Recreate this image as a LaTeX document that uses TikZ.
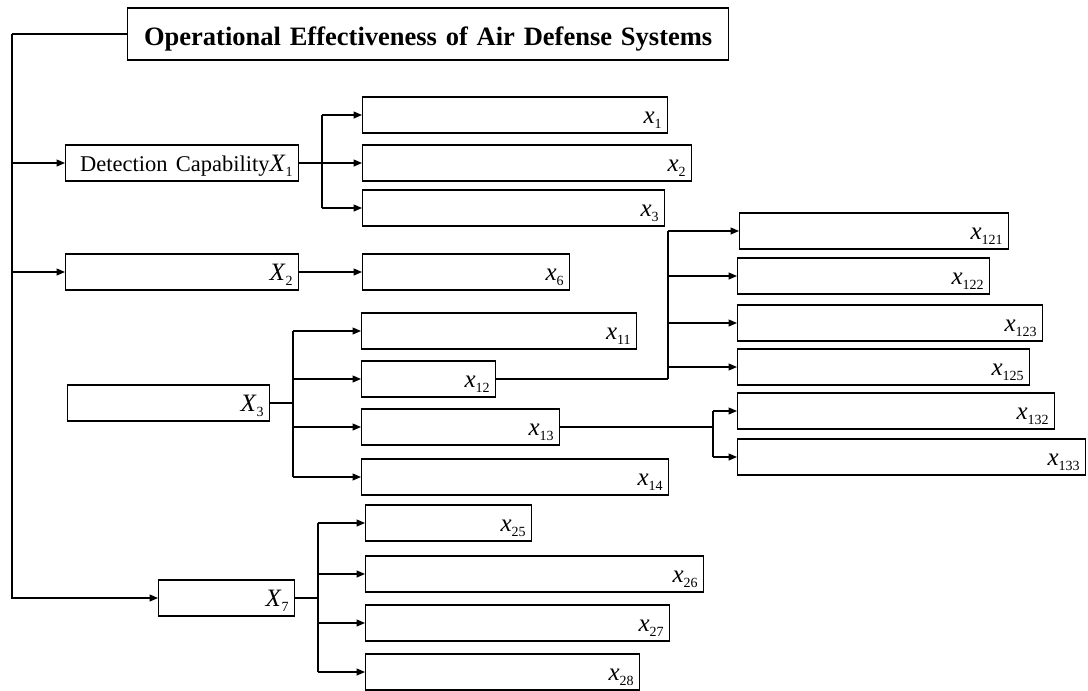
\documentclass[tikz,border=0pt]{standalone}
\usepackage{fontspec}
\setmainfont{Liberation Serif}
\usetikzlibrary{arrows.meta}
\newcommand{\sublbl}[2]{\textit{#1}\raisebox{-5.5pt}{\fontsize{14pt}{14pt}\selectfont #2}}

\begin{document}
\begin{tikzpicture}[x=1pt, y=-1pt, line width=1.3pt,
  box/.style={draw, anchor=west, minimum height=36pt, inner xsep=6pt, inner ysep=0pt, align=right, text height=22pt, text depth=6pt, font=\fontsize{25pt}{25pt}\selectfont},
  bx/.style={box, text width=#1},
  arr/.style={-{Triangle[length=8.5pt,width=7pt]}},
  stem/.style={line width=2.4pt}]
  \useasboundingbox (0,0) rectangle (1088,691);

  \node[box, align=center, text width=589pt, minimum height=52pt, text height=28pt, text depth=6pt, font=\fontsize{26.5pt}{26.5pt}\selectfont\bfseries] (title) at (127,34) {Operational Effectiveness of Air Defense Systems};

  \node[bx=221pt] (X1) at (65,163) {{\fontsize{22.5pt}{22.5pt}\selectfont Detection Capability}\sublbl{X}{1}};
  \node[bx=221pt] (X2) at (65,272) {\sublbl{X}{2}};
  \node[bx=190pt] (X3) at (67,403) {\sublbl{X}{3}};
  \node[bx=124pt] (X7) at (158,598) {\sublbl{X}{7}};

  \node[bx=293pt] (x1) at (362,115) {\sublbl{x}{1}};
  \node[bx=317pt] (x2) at (362,163) {\sublbl{x}{2}};
  \node[bx=290pt] (x3) at (362,208) {\sublbl{x}{3}};
  \node[bx=195pt] (x6) at (362,272) {\sublbl{x}{6}};

  \node[bx=263pt] (x11) at (361,331) {\sublbl{x}{11}};
  \node[bx=122pt] (x12) at (361,379) {\sublbl{x}{12}};
  \node[bx=186pt] (x13) at (361,427) {\sublbl{x}{13}};
  \node[bx=295pt] (x14) at (361,477) {\sublbl{x}{14}};

  \node[bx=257pt] (x121) at (739,231) {\sublbl{x}{121}};
  \node[bx=240pt] (x122) at (737,276) {\sublbl{x}{122}};
  \node[bx=293pt] (x123) at (737,323) {\sublbl{x}{123}};
  \node[bx=280pt] (x125) at (737,367) {\sublbl{x}{125}};
  \node[bx=305pt] (x132) at (737,411) {\sublbl{x}{132}};
  \node[bx=336pt] (x133) at (737,457) {\sublbl{x}{133}};

  \node[bx=154pt] (x25) at (365,523) {\sublbl{x}{25}};
  \node[bx=326pt] (x26) at (365,574) {\sublbl{x}{26}};
  \node[bx=292pt] (x27) at (365,623) {\sublbl{x}{27}};
  \node[bx=262pt] (x28) at (365,672) {\sublbl{x}{28}};

  \coordinate (sp) at (12,34);
  \coordinate (b1) at (322,0);
  \coordinate (b3) at (293,0);
  \coordinate (b7) at (318,0);
  \coordinate (b12) at (668,0);
  \coordinate (b13) at (713,0);

  \draw (title.west) -- (sp);
  \draw[arr] (sp) |- (X7.west);
  \foreach \n in {X1,X2}
    \draw[arr] (sp |- \n.west) -- (\n.west);

  \draw[stem] (X1.east) -- (b1 |- X1.east);
  \draw (b1 |- x1.west) -- (b1 |- x3.west);
  \foreach \n in {x1,x2,x3}
    \draw[arr] (b1 |- \n.west) -- (\n.west);

  \draw[arr] (X2.east) -- (x6.west);

  \draw[stem] (X3.east) -- (b3 |- X3.east);
  \draw (b3 |- x11.west) -- (b3 |- x14.west);
  \foreach \n in {x11,x12,x13,x14}
    \draw[arr] (b3 |- \n.west) -- (\n.west);

  \draw[stem] (x12.east) -- (b12 |- x12.east);
  \draw (b12 |- x12.east) -- (b12 |- x121.west);
  \foreach \n in {x121,x122,x123,x125}
    \draw[arr] (b12 |- \n.west) -- (\n.west);

  \draw (x13.east) -- (b13 |- x13.east);
  \draw (b13 |- x132.west) -- (b13 |- x133.west);
  \foreach \n in {x132,x133}
    \draw[arr] (b13 |- \n.west) -- (\n.west);

  \draw[stem] (X7.east) -- (b7 |- X7.east);
  \draw (b7 |- x25.west) -- (b7 |- x28.west);
  \foreach \n in {x25,x26,x27,x28}
    \draw[arr] (b7 |- \n.west) -- (\n.west);
\end{tikzpicture}
\end{document}
